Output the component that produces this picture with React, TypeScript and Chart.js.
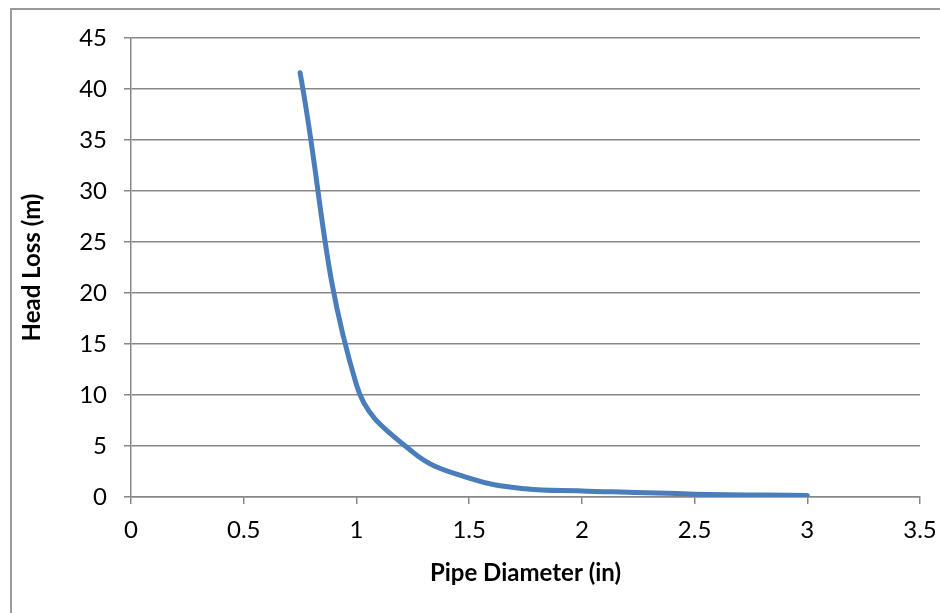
import React, { useEffect, useRef } from "react";
import { Chart, registerables } from "chart.js";

Chart.register(...registerables);

// Data
const diameters = [0.75, 1, 1.25, 1.5, 1.75, 2, 2.5, 3];
const headLoss = [41.6, 11.0, 4.4, 1.85, 0.8, 0.6, 0.28, 0.15];
const xTickValues = [0, 0.5, 1, 1.5, 2, 2.5, 3, 3.5];
const yTickValues = [0, 5, 10, 15, 20, 25, 30, 35, 40, 45];
const xTitle = "Pipe Diameter (in)";
const yTitle = "Head Loss (m)";

const FONT = "Lato, 'Open Sans', 'DejaVu Sans', sans-serif";
const GRID = "#878787";

export default function App() {
  const ref = useRef<HTMLCanvasElement | null>(null);

  useEffect(() => {
    if (!ref.current) return;
    const chart = new Chart(ref.current, {
      type: "line",
      data: {
        datasets: [
          {
            label: yTitle,
            data: diameters.map((d, i) => ({ x: d, y: headLoss[i] })),
            borderColor: "#4a7ebb",
            backgroundColor: "#4a7ebb",
            borderWidth: 5,
            borderCapStyle: "round",
            borderJoinStyle: "round",
            pointRadius: 0,
            tension: 0.4,
            fill: false,
          },
        ],
      },
      options: {
        responsive: false,
        animation: false,
        devicePixelRatio: 1,
        layout: { padding: { left: 10, top: 38, right: 20, bottom: 0 } },
        plugins: {
          legend: { display: false },
          tooltip: { enabled: false },
        },
        scales: {
          x: {
            type: "linear",
            min: 0,
            max: 3.5,
            afterBuildTicks: (s: any) => {
              s.ticks = xTickValues.map((v) => ({ value: v }));
            },
            afterFit: (s: any) => {
              s.height = 116;
              s.paddingLeft = 0;
              s.paddingRight = 0;
            },
            ticks: {
              color: "#000",
              font: { family: FONT, size: 24 },
              padding: 12,
              maxRotation: 0,
              autoSkip: false,
              callback: (v: any) => String(v),
            },
            grid: {
              drawOnChartArea: false,
              drawTicks: true,
              tickLength: 7,
              color: GRID,
              lineWidth: 1.5,
            },
            border: { display: true, color: GRID, width: 1.5 },
            title: {
              display: true,
              text: xTitle,
              color: "#000",
              font: { family: FONT, size: 24, weight: "bold" },
              padding: { top: 0, bottom: 25 },
            },
          },
          y: {
            type: "linear",
            min: 0,
            max: 45,
            afterBuildTicks: (s: any) => {
              s.ticks = yTickValues.map((v) => ({ value: v }));
            },
            afterFit: (s: any) => {
              s.width = 121;
              s.paddingTop = 0;
              s.paddingBottom = 0;
            },
            ticks: {
              color: "#000",
              font: { family: FONT, size: 24 },
              padding: 17,
              autoSkip: false,
              callback: (v: any) => String(v),
            },
            grid: {
              drawOnChartArea: true,
              drawTicks: true,
              tickLength: 7,
              color: GRID,
              lineWidth: 1.5,
            },
            border: { display: true, color: GRID, width: 1.5 },
            title: {
              display: true,
              text: yTitle,
              color: "#000",
              font: { family: FONT, size: 24, weight: "bold" },
              padding: { top: 8, bottom: 0 },
            },
          },
        },
      },
    });
    return () => chart.destroy();
  }, []);

  return (
    <div
      style={{
        position: "absolute",
        left: 0,
        top: 0,
        width: 940,
        height: 613,
        overflow: "hidden",
        background: "#fff",
      }}
    >
      <div
        style={{
          position: "absolute",
          left: 10,
          top: 8,
          width: 980,
          height: 660,
          borderLeft: "2px solid #9a9a9a",
          borderTop: "2px solid #9a9a9a",
        }}
      />
      <canvas
        ref={ref}
        width={940}
        height={613}
        style={{ position: "absolute", left: 0, top: 0, width: 940, height: 613 }}
      />
    </div>
  );
}
